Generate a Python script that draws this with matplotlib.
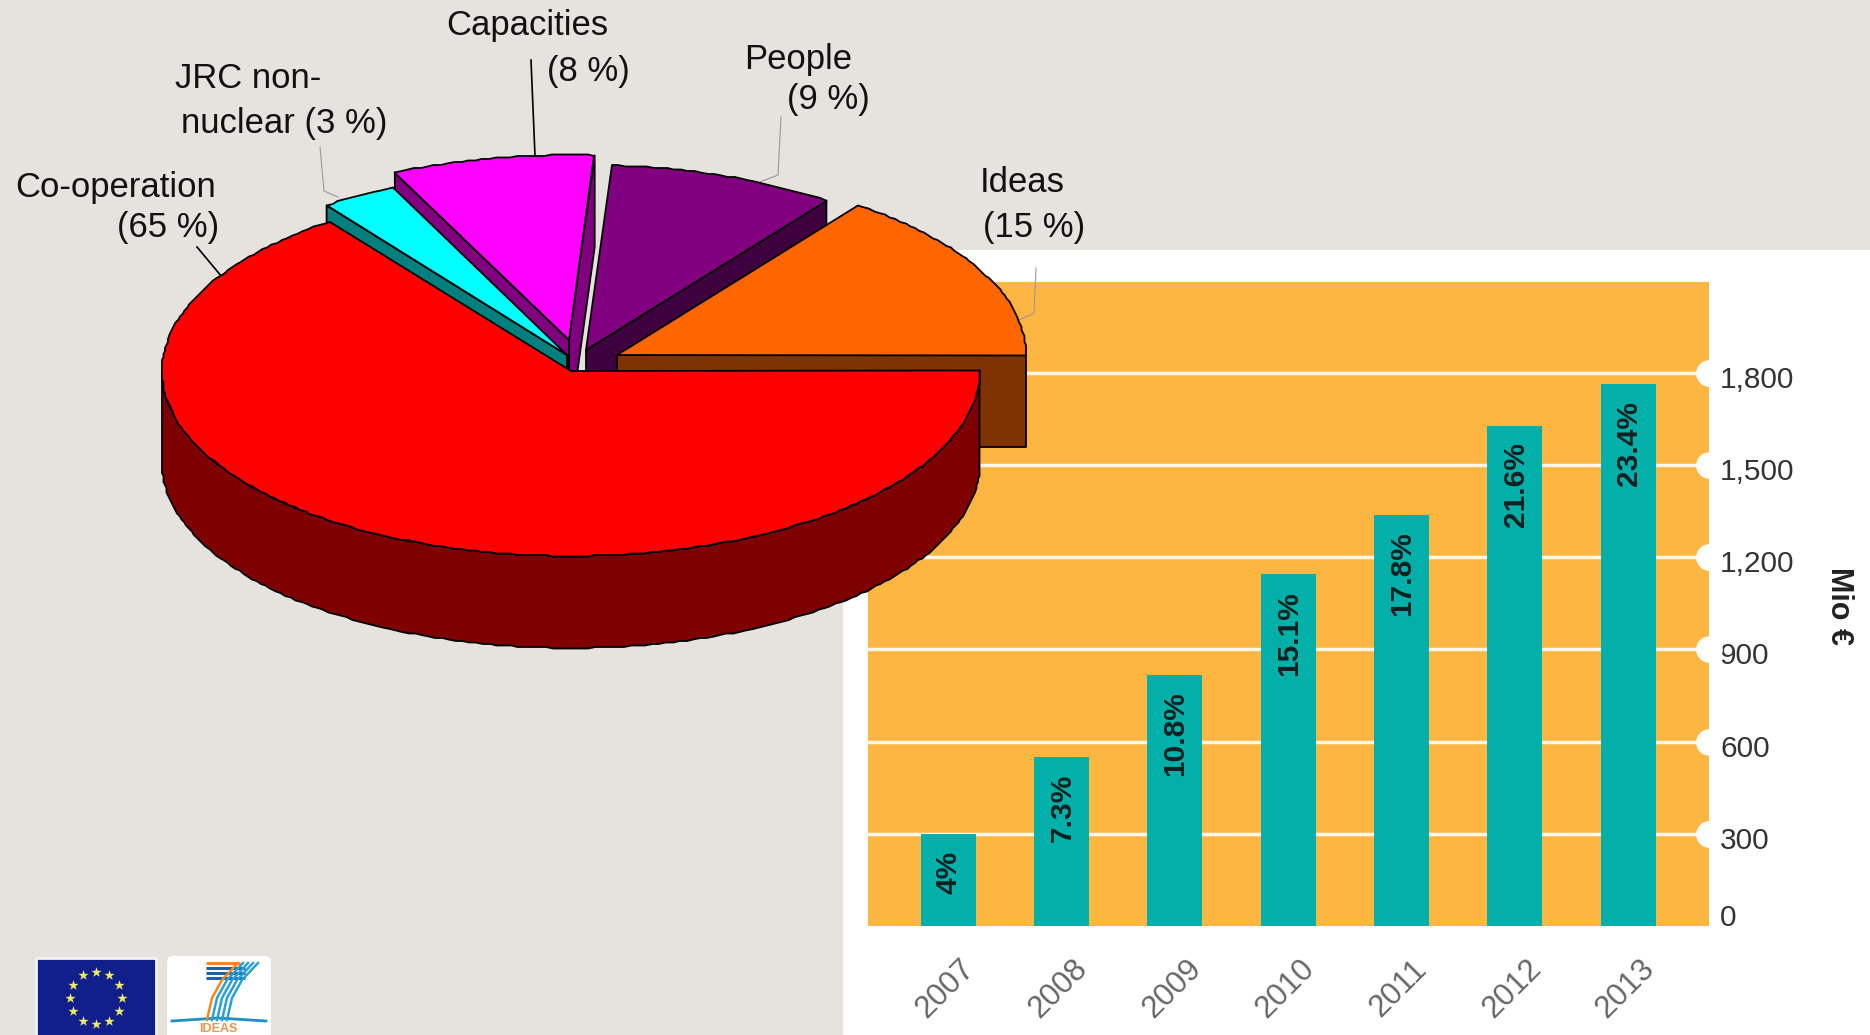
import matplotlib
matplotlib.use("Agg")
import matplotlib.pyplot as plt
import numpy as np
from matplotlib.patches import Polygon, Rectangle, FancyBboxPatch

plt.rcParams['font.family'] = ['Liberation Sans', 'DejaVu Sans']

# pie data
slice_names = ["Co-operation", "JRC non-nuclear", "Capacities", "People", "Ideas"]
slice_shares = [65, 3, 8, 9, 15]

# bar data
years = ["2007", "2008", "2009", "2010", "2011", "2012", "2013"]
budget = [298, 549, 817, 1144, 1338, 1628, 1762]
budget_pct = ["4%", "7.3%", "10.8%", "15.1%", "17.8%", "21.6%", "23.4%"]
budget_ticks = [300, 600, 900, 1200, 1500, 1800]
budget_tick_labels = ["300", "600", "900", "1,200", "1,500", "1,800"]

BG = "#e6e2de"
ORANGE = "#feb643"
TEAL = "#02b0a9"

fig = plt.figure(figsize=(18.7, 10.35), dpi=100, facecolor=BG)

# whole figure in pixels, for the panel, pie, labels and logos
back = fig.add_axes([0, 0, 1, 1], zorder=0)
back.set_xlim(0, 1870)
back.set_ylim(1035, 0)
back.axis("off")
back.add_patch(Rectangle((843, 250), 1027, 785, color="white", lw=0))

# bar chart
ax = fig.add_axes([868 / 1870, (1035 - 926) / 1035, 841 / 1870, 644 / 1035], zorder=2)
ax.set_facecolor(ORANGE)
x = np.arange(len(years))
ax.bar(x, budget, width=0.485, color=TEAL, zorder=3)
ax.set_xlim(-0.708, 6.713)
ax.set_ylim(0, 2095)
for t in budget_ticks:
    ax.axhline(t, color="#fff6e8", lw=2.5, zorder=1)
ax.scatter([6.713] * len(budget_ticks), budget_ticks, s=370, color="white", zorder=4, clip_on=False, lw=0)
for s in ax.spines.values():
    s.set_visible(False)
ax.set_xticks([])
ax.set_yticks([])

for i, v in enumerate(budget):
    ax.annotate(budget_pct[i], (x[i], v), xytext=(0.5, -12), textcoords="offset points", rotation=90,
                ha="center", va="top", fontsize=21.5, fontweight="bold", color="#10201f", zorder=5)
    ax.annotate(years[i], (x[i], 0), xytext=(-2, -45), textcoords="offset points", rotation=45,
                ha="center", va="center", fontsize=22.5, color="#666666", annotation_clip=False)

for t, lab in zip(budget_ticks, budget_tick_labels):
    ax.annotate(lab, (6.713, t), xytext=(8, -5), textcoords="offset points", ha="left", va="center",
                fontsize=21.5, color="#333333", annotation_clip=False)
ax.annotate("0", (6.713, 0), xytext=(8, 6), textcoords="offset points", ha="left", va="center",
            fontsize=21.5, color="#333333", annotation_clip=False)

# pie on top of it all
top = fig.add_axes([0, 0, 1, 1], zorder=5)
top.set_xlim(0, 1870)
top.set_ylim(1035, 0)
top.axis("off")
top.patch.set_alpha(0)

top.text(1839, 606, "Mio €", rotation=-90, ha="center", va="center", fontsize=22, fontweight="bold", color="#222222")

RX = 409
RY = 185
DEPTH = 92
slice_centres = {"Co-operation": (571, 371), "JRC non-nuclear": (567, 355), "Capacities": (569, 340),
                 "People": (586, 350), "Ideas": (617, 355)}
slice_colors = {"Co-operation": "#ff0000", "JRC non-nuclear": "#00ffff", "Capacities": "#ff00ff",
                "People": "#800080", "Ideas": "#ff6600"}
wall_colors = {"Co-operation": "#7f0000", "JRC non-nuclear": "#007f7f", "Capacities": "#800080",
               "People": "#3f003f", "Ideas": "#7f3300"}

# angles go counter clockwise starting at Ideas, the red one wraps round the front
angles = {}
start = 0.0
for name, share in zip(slice_names[::-1], slice_shares[::-1]):
    angles[name] = (start, start + share * 3.6)
    start += share * 3.6


def arc(cx, cy, a0, a1):
    n = int(a1 - a0) + 2
    a = np.radians(np.linspace(a0, a1, n))
    px = cx + RX * np.cos(a)
    py = cy - RY * np.sin(a)
    # the original has a slightly stepped edge
    return np.column_stack([np.round(px / 1.5) * 1.5, np.round(py / 1.5) * 1.5])


def draw_slice(name):
    cx, cy = slice_centres[name]
    a0, a1 = angles[name]
    wall = wall_colors[name]
    edge = dict(ec="black", lw=1.3, joinstyle="round", zorder=6)
    # cut faces
    for ang, visible in ((a0, np.cos(np.radians(a0)) > 0), (a1, np.cos(np.radians(a1)) < 0)):
        if visible:
            ox = cx + RX * np.cos(np.radians(ang))
            oy = cy - RY * np.sin(np.radians(ang))
            top.add_patch(Polygon([(cx, cy), (ox, oy), (ox, oy + DEPTH), (cx, cy + DEPTH)], fc=wall, **edge))
    # round outer wall, only the front half shows
    f0 = max(a0, 180)
    f1 = min(a1, 360)
    if f1 > f0:
        pts = arc(cx, cy, f0, f1)
        low = pts + [0, DEPTH]
        top.add_patch(Polygon(np.vstack([pts, low[::-1]]), fc=wall, **edge))
    pts = arc(cx, cy, a0, a1)
    top.add_patch(Polygon(np.vstack([[(cx, cy)], pts]), fc=slice_colors[name], **edge))


for name in ["People", "Capacities", "JRC non-nuclear", "Ideas", "Co-operation"]:
    draw_slice(name)

# labels
label_style = dict(fontsize=24.9, color="#111111", va="center", ha="left", zorder=8)
top.text(446, 26, "Capacities", **label_style)
top.text(547, 72, "(8 %)", **label_style)
top.text(175, 78, "JRC non-", **label_style)
top.text(181, 123, "nuclear (3 %)", **label_style)
top.text(744, 60, "People", **label_style)
top.text(787, 100, "(9 %)", **label_style)
top.text(980, 183, "Ideas", **label_style)
top.text(983, 228, "(15 %)", **label_style)
top.text(15, 188, "Co-operation", **label_style)
top.text(117, 228, "(65 %)", **label_style)

# leader lines
top.plot([531, 535], [60, 156], color="black", lw=1.2, zorder=5)
top.plot([197, 222], [247, 277], color="black", lw=1.2, zorder=5)
top.plot([320, 324, 338], [147, 191, 197], color="#999999", lw=0.8, zorder=5)
top.plot([781, 778, 760], [117, 175, 182], color="#999999", lw=0.8, zorder=5)
top.plot([1036, 1034, 1019], [268, 313, 320], color="#999999", lw=0.8, zorder=5)

# EU flag
top.add_patch(Rectangle((36, 958), 120, 90, fc="#101f8c", ec="#f2f2f2", lw=2))
star_a = np.radians(np.arange(0, 360, 30))
top.scatter(96 + 26 * np.cos(star_a), 998 + 26 * np.sin(star_a), marker="*", s=60, color="#f1ea62", lw=0)

# FP7 logo
top.add_patch(FancyBboxPatch((171, 960), 96, 90, boxstyle="round,pad=4,rounding_size=6", fc="white", ec="none"))
for yy in [963, 968, 973, 978]:
    top.plot([206, 245 if yy > 965 else 240], [yy, yy], color="#f08a1d" if yy == 963 else "#1f5fa8", lw=2.2, solid_capstyle="butt")
top.plot([172, 218, 266], [1021, 1018, 1021], color="#1f8fc4", lw=2)
for dx, col in zip([0, 5, 10, 15, 20], ["#f08a1d", "#2aa0d8", "#2aa0d8", "#2aa0d8", "#2aa0d8"]):
    cx = np.array([207, 212, 222, 238]) + dx
    cy = np.array([1020, 998, 980, 963])
    top.plot(cx, cy, color=col, lw=1.8)
top.text(218, 1029, "IDEAS", fontsize=9, fontweight="bold", color="#e8954a", ha="center", va="center")

fig.savefig("out.png", dpi=100, facecolor=BG)
